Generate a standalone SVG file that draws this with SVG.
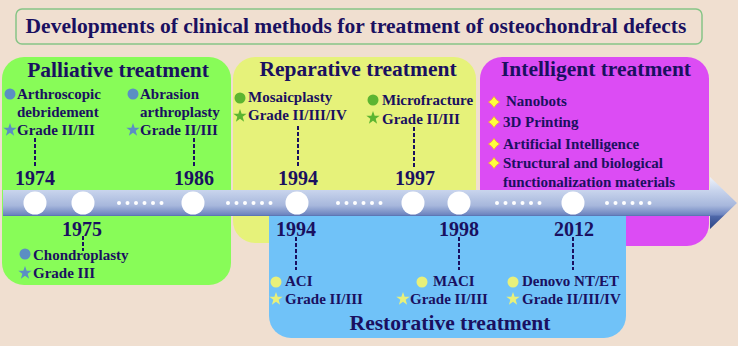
<svg xmlns="http://www.w3.org/2000/svg" xmlns:xlink="http://www.w3.org/1999/xlink" width="738" height="346" viewBox="0 0 738 346">
<style>
.t{font-family:"Liberation Serif","Times New Roman",serif;font-weight:bold;fill:#1a1060}
.h{font-size:21.5px;text-anchor:middle}
.y{font-size:20px;text-anchor:middle}
.i{font-size:15px}
.dash{stroke:#1a1060;stroke-width:2;stroke-dasharray:4 2;fill:none}
.c{fill:#fff}
.d{fill:#fff}
</style>
<defs>
<linearGradient id="ag" gradientUnits="userSpaceOnUse" x1="0" y1="177" x2="0" y2="229">
<stop offset="0" stop-color="#eef2fa"/>
<stop offset="0.25" stop-color="#c9d5ed"/>
<stop offset="0.55" stop-color="#a7b7dc"/>
<stop offset="0.72" stop-color="#6f86c0"/>
<stop offset="0.76" stop-color="#4d66a8"/>
<stop offset="1" stop-color="#2c4686"/>
</linearGradient>
<path id="star" d="M0,-7 L1.65,-2.27 L6.66,-2.16 L2.66,0.87 L4.11,5.66 L0,2.8 L-4.11,5.66 L-2.66,0.87 L-6.66,-2.16 L-1.65,-2.27 Z"/>
<path id="spark" d="M0,-5.5 Q2,-2 5.5,0 Q2,2 0,5.5 Q-2,2 -5.5,0 Q-2,-2 0,-5.5 Z" fill="#ffff3c" stroke="#f2a43a" stroke-width="0.8"/>
</defs>
<rect width="738" height="346" fill="#f0dfd0"/>
<g id="title">
<rect x="16" y="9" width="686" height="35" rx="6" fill="#f0dfd0" stroke="#86c586" stroke-width="1.5"/>
<text class="t" x="356" y="33" font-size="21.5" text-anchor="middle">Developments of clinical methods for treatment of osteochondral defects</text>
</g>
<g id="palliative">
<rect x="2" y="57" width="229" height="228" rx="22" fill="#88fc58"/>
<text class="t h" x="118" y="77">Palliative treatment</text>
</g>
<g id="reparative">
<rect x="233" y="57" width="243" height="186" rx="22" fill="#e6f27a"/>
<text class="t h" x="358" y="76">Reparative treatment</text>
</g>
<g id="intelligent">
<rect x="480" y="57" width="229" height="189" rx="22" fill="#dc4cf4"/>
<text class="t h" x="596" y="76">Intelligent treatment</text>
<use xlink:href="#spark" x="494" y="102"/>
<text class="t i" x="506" y="106">Nanobots</text>
<use xlink:href="#spark" x="494" y="122"/>
<text class="t i" x="503" y="127">3D Printing</text>
<use xlink:href="#spark" x="494" y="144"/>
<text class="t i" x="503" y="149">Artificial Intelligence</text>
<use xlink:href="#spark" x="494" y="163"/>
<text class="t i" x="503" y="168">Structural and biological</text>
<text class="t i" x="503" y="187">functionalization materials</text>
</g>
<g id="restorative">
<rect x="269" y="190" width="357" height="148" rx="22" fill="#70c2f8"/>
<text class="t h" x="450" y="330">Restorative treatment</text>
</g>
<g id="timeline">
<path d="M3,190 H710 V177 L737,203 L710,229 V216 H3 Z" fill="url(#ag)"/>
<circle class="c" cx="35" cy="203" r="11.5"/>
<circle class="c" cx="83" cy="203" r="11.5"/>
<circle class="c" cx="193" cy="203" r="11.5"/>
<circle class="c" cx="297" cy="203" r="11.5"/>
<circle class="c" cx="413" cy="203" r="11.5"/>
<circle class="c" cx="459" cy="203" r="11.5"/>
<circle class="c" cx="573" cy="203" r="11.5"/>
<g class="d">
<circle cx="119" cy="203" r="2"/><circle cx="127.5" cy="203" r="2"/><circle cx="136" cy="203" r="2"/><circle cx="144.5" cy="203" r="2"/><circle cx="153" cy="203" r="2"/><circle cx="161.5" cy="203" r="2"/>
<circle cx="228" cy="203" r="2"/><circle cx="236.5" cy="203" r="2"/><circle cx="245" cy="203" r="2"/><circle cx="253.5" cy="203" r="2"/><circle cx="262" cy="203" r="2"/><circle cx="270.5" cy="203" r="2"/>
<circle cx="338" cy="203" r="2"/><circle cx="346.5" cy="203" r="2"/><circle cx="355" cy="203" r="2"/><circle cx="363.5" cy="203" r="2"/><circle cx="372" cy="203" r="2"/><circle cx="380.5" cy="203" r="2"/>
<circle cx="497" cy="203" r="2"/><circle cx="505.5" cy="203" r="2"/><circle cx="514" cy="203" r="2"/><circle cx="522.5" cy="203" r="2"/><circle cx="531" cy="203" r="2"/><circle cx="539.5" cy="203" r="2"/>
<circle cx="607" cy="203" r="2"/><circle cx="615.5" cy="203" r="2"/><circle cx="624" cy="203" r="2"/><circle cx="632.5" cy="203" r="2"/><circle cx="641" cy="203" r="2"/><circle cx="649.5" cy="203" r="2"/>
</g>
</g>
<g id="connectors">
<line class="dash" x1="35" y1="138" x2="35" y2="166"/>
<line class="dash" x1="194" y1="138" x2="194" y2="166"/>
<line class="dash" x1="298" y1="126" x2="298" y2="166"/>
<line class="dash" x1="414" y1="127" x2="414" y2="167"/>
<line class="dash" x1="83" y1="236" x2="83" y2="251"/>
<line class="dash" x1="296" y1="237" x2="296" y2="270"/>
<line class="dash" x1="459" y1="237" x2="459" y2="270"/>
<line class="dash" x1="573" y1="237" x2="573" y2="270"/>
</g>
<g id="y1974">
<text class="t y" x="35" y="185">1974</text>
<circle cx="10" cy="94" r="5.5" fill="#5b8ec4"/>
<text class="t i" x="17" y="99">Arthroscopic</text>
<text class="t i" x="17" y="117">debridement</text>
<use xlink:href="#star" x="10" y="130" fill="#5b8ec4"/>
<text class="t i" x="17" y="135">Grade II/III</text>
</g>
<g id="y1986">
<text class="t y" x="194" y="185">1986</text>
<circle cx="133" cy="94" r="5.5" fill="#5b8ec4"/>
<text class="t i" x="140" y="99">Abrasion</text>
<text class="t i" x="140" y="117">arthroplasty</text>
<use xlink:href="#star" x="133" y="130" fill="#5b8ec4"/>
<text class="t i" x="140" y="135">Grade II/III</text>
</g>
<g id="y1975">
<text class="t y" x="82" y="236">1975</text>
<circle cx="25" cy="254" r="5.5" fill="#5b8ec4"/>
<text class="t i" x="33" y="260">Chondroplasty</text>
<use xlink:href="#star" x="25" y="273" fill="#5b8ec4"/>
<text class="t i" x="33" y="278">Grade III</text>
</g>
<g id="y1994a">
<text class="t y" x="298" y="185">1994</text>
<circle cx="240" cy="98" r="5.5" fill="#5cb531"/>
<text class="t i" x="248" y="102">Mosaicplasty</text>
<use xlink:href="#star" x="240" y="116" fill="#5cb531"/>
<text class="t i" x="248" y="120">Grade II/III/IV</text>
</g>
<g id="y1997">
<text class="t y" x="415" y="185">1997</text>
<circle cx="373" cy="100" r="5.5" fill="#5cb531"/>
<text class="t i" x="382" y="105">Microfracture</text>
<use xlink:href="#star" x="373" y="118" fill="#5cb531"/>
<text class="t i" x="382" y="124">Grade II/III</text>
</g>
<g id="y1994b">
<text class="t y" x="296" y="236">1994</text>
<circle cx="276" cy="282" r="5.5" fill="#e8f07a"/>
<text class="t i" x="285" y="286">ACI</text>
<use xlink:href="#star" x="276" y="299" fill="#e8f07a"/>
<text class="t i" x="285" y="304">Grade II/III</text>
</g>
<g id="y1998">
<text class="t y" x="459" y="236">1998</text>
<circle cx="422" cy="282" r="5.5" fill="#e8f07a"/>
<text class="t i" x="433" y="286">MACI</text>
<use xlink:href="#star" x="403" y="299" fill="#e8f07a"/>
<text class="t i" x="410" y="304">Grade II/III</text>
</g>
<g id="y2012">
<text class="t y" x="574" y="236">2012</text>
<circle cx="513" cy="282" r="5.5" fill="#e8f07a"/>
<text class="t i" x="522" y="286">Denovo NT/ET</text>
<use xlink:href="#star" x="513" y="299" fill="#e8f07a"/>
<text class="t i" x="522" y="304">Grade II/III/IV</text>
</g>
</svg>
